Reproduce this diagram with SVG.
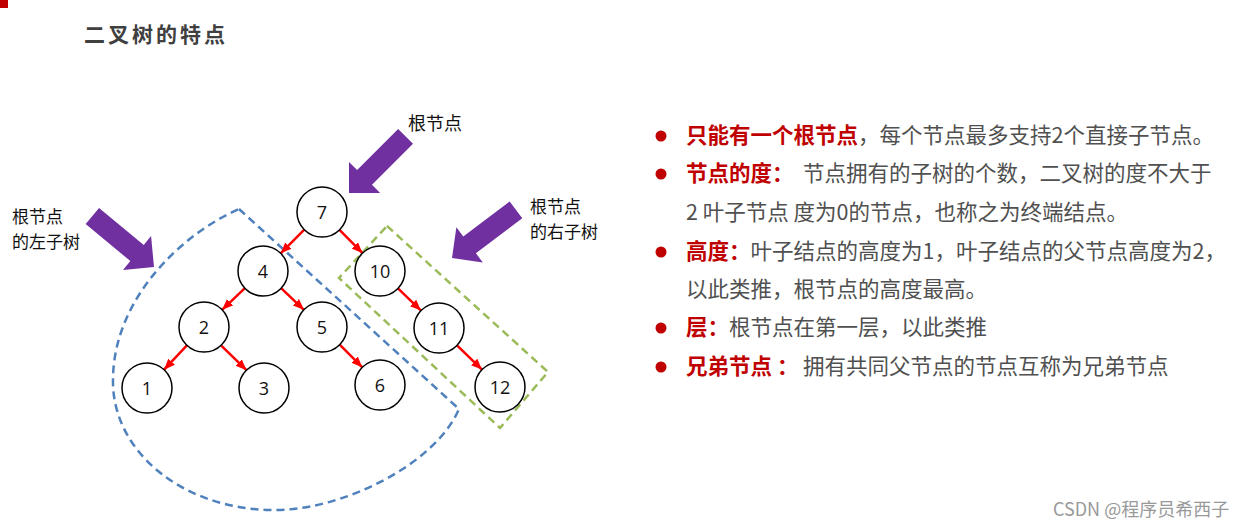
<svg xmlns="http://www.w3.org/2000/svg" width="1259" height="528" viewBox="0 0 1259 528">
<style>
.node circle{fill:#fff;stroke:#000;stroke-width:1.5}
.node text{font-family:"Open Sans","Liberation Sans",sans-serif;font-size:18px;fill:#111;text-anchor:middle}
.edge{stroke:#f00;stroke-width:2.5;fill:none;marker-end:url(#ah)}
.lbl{font-family:"Noto Sans CJK SC",sans-serif;font-size:18px;fill:#111}
.lbl2{font-family:"Noto Sans CJK SC",sans-serif;font-size:17px;fill:#111}
.pa{fill:#7030a0}
.txt{font-family:"Noto Sans CJK SC",sans-serif;font-size:21.5px;fill:#505050}
.key{fill:#c00000;font-weight:bold}
.bul{fill:#c00000}
</style>
<defs>
<marker id="ah" markerUnits="userSpaceOnUse" markerWidth="12" markerHeight="10" refX="11" refY="4.5" orient="auto">
<path d="M0,0 L11,4.5 L0,9 z" fill="#f00"/>
</marker>
<path id="bigarrow" d="M0,0 L-22,-22 L-22,-10.5 L-80,-10.5 L-80,10.5 L-22,10.5 L-22,22 Z"/>
</defs>
<rect width="1259" height="528" fill="#fff"/>
<rect x="0" y="0" width="8" height="8" fill="#c00000"/>
<text x="84" y="42" font-family="Noto Sans CJK SC,sans-serif" font-size="21" font-weight="bold" letter-spacing="3" fill="#404040">二叉树的特点</text>

<g id="subtree-outlines">
<path d="M239,209 L459,409 C435,465 340,512 270,510 C180,508 112,450 113,380 C113,300 180,235 239,209 Z" fill="none" stroke="#4f81bd" stroke-width="2.5" stroke-dasharray="8,5"/>
<polygon points="387,226 548,372 500,428 339,278" fill="none" stroke="#9bbb59" stroke-width="2.5" stroke-dasharray="8,5"/>
</g>

<g id="pointers">
<use href="#bigarrow" class="pa" transform="translate(349,193) rotate(135)"/>
<use href="#bigarrow" class="pa" transform="translate(154,267) rotate(39.6)"/>
<use href="#bigarrow" class="pa" transform="translate(452,258) rotate(143.1)"/>
<text class="lbl" x="408" y="130">根节点</text>
<text class="lbl2" x="12" y="223">根节点</text>
<text class="lbl2" x="12" y="248">的左子树</text>
<text class="lbl2" x="530" y="213">根节点</text>
<text class="lbl2" x="530" y="238">的右子树</text>
</g>

<g id="connectors">
<line class="edge" x1="304.3" y1="229.7" x2="280.7" y2="253.3"/>
<line class="edge" x1="339.5" y1="229.8" x2="362.5" y2="253.2"/>
<line class="edge" x1="244.9" y1="288.2" x2="222.1" y2="309.8"/>
<line class="edge" x1="281.1" y1="288.2" x2="303.9" y2="309.8"/>
<line class="edge" x1="186.9" y1="345.3" x2="164.1" y2="369.7"/>
<line class="edge" x1="221.5" y1="345.8" x2="246.5" y2="370.2"/>
<line class="edge" x1="339.7" y1="344.7" x2="362.3" y2="367.3"/>
<line class="edge" x1="398" y1="288.4" x2="421" y2="310.6"/>
<line class="edge" x1="457" y1="345.4" x2="482" y2="369.6"/>
</g>

<g id="n7" class="node"><circle cx="322" cy="212" r="25"/><text x="322" y="218.5">7</text></g>
<g id="n4" class="node"><circle cx="263" cy="271" r="25"/><text x="263" y="277.5">4</text></g>
<g id="n10" class="node"><circle cx="380" cy="271" r="25"/><text x="380" y="277.5">10</text></g>
<g id="n2" class="node"><circle cx="204" cy="327" r="25"/><text x="204" y="333.5">2</text></g>
<g id="n5" class="node"><circle cx="322" cy="327" r="25"/><text x="322" y="333.5">5</text></g>
<g id="n11" class="node"><circle cx="439" cy="328" r="25"/><text x="439" y="334.5">11</text></g>
<g id="n1" class="node"><circle cx="147" cy="388" r="25"/><text x="147" y="394.5">1</text></g>
<g id="n3" class="node"><circle cx="264" cy="388" r="25"/><text x="264" y="394.5">3</text></g>
<g id="n6" class="node"><circle cx="380" cy="385" r="25"/><text x="380" y="391.5">6</text></g>
<g id="n12" class="node"><circle cx="500" cy="387" r="25"/><text x="500" y="393.5">12</text></g>

<g id="notes">
<circle class="bul" cx="661" cy="136" r="5.5"/>
<circle class="bul" cx="661" cy="174" r="5.5"/>
<circle class="bul" cx="661" cy="252" r="5.5"/>
<circle class="bul" cx="661" cy="328" r="5.5"/>
<circle class="bul" cx="661" cy="367" r="5.5"/>
<text class="txt" x="686" y="143"><tspan class="key">只能有一个根节点</tspan>，每个节点最多支持2个直接子节点。</text>
<text class="txt" x="686" y="181"><tspan class="key">节点的度：</tspan><tspan x="803">节点拥有的子树的个数，二叉树的度不大于</tspan></text>
<text class="txt" x="686" y="220">2 叶子节点 度为0的节点，也称之为终端结点。</text>
<text class="txt" x="686" y="259"><tspan class="key">高度：</tspan>叶子结点的高度为1，叶子结点的父节点高度为2，</text>
<text class="txt" x="686" y="297">以此类推，根节点的高度最高。</text>
<text class="txt" x="686" y="335"><tspan class="key">层：</tspan>根节点在第一层，以此类推</text>
<text class="txt" x="686" y="374"><tspan class="key">兄弟节点 ：</tspan><tspan x="803">拥有共同父节点的节点互称为兄弟节点</tspan></text>
</g>

<text x="1053" y="516" font-family="Noto Sans CJK SC,sans-serif" font-size="18" fill="#999">CSDN @程序员希西子</text>
</svg>
